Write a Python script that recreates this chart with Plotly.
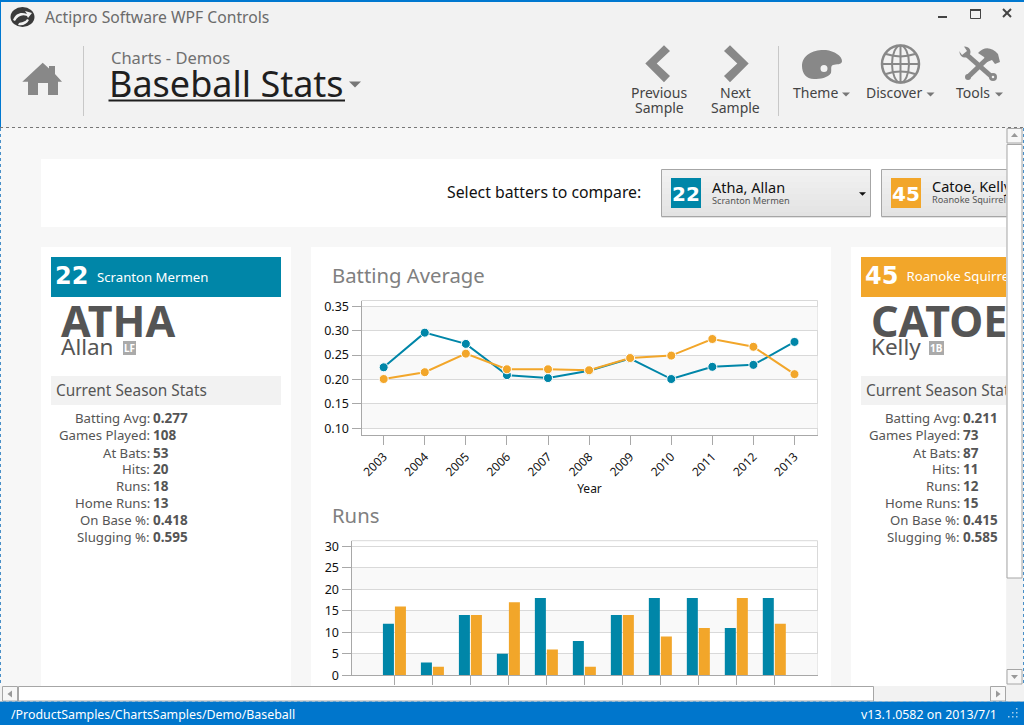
import re
import plotly.graph_objects as go

# ---------- data ----------
years = [2003, 2004, 2005, 2006, 2007, 2008, 2009, 2010, 2011, 2012, 2013]
avg_atha = [0.225, 0.296, 0.273, 0.209, 0.203, 0.218, 0.243, 0.201, 0.226, 0.230, 0.277]
avg_catoe = [0.201, 0.215, 0.253, 0.221, 0.221, 0.219, 0.244, 0.249, 0.283, 0.267, 0.211]
runs_atha = [12, 3, 14, 5, 18, 8, 14, 18, 18, 11, 18]
runs_catoe = [16, 2, 14, 17, 6, 2, 14, 9, 11, 18, 12]
avg_ticks = [0.10, 0.15, 0.20, 0.25, 0.30, 0.35]
run_ticks = [0, 5, 10, 15, 20, 25, 30]
stat_labels = ["Batting Avg:", "Games Played:", "At Bats:", "Hits:", "Runs:", "Home Runs:", "On Base %:", "Slugging %:"]
stats_atha = ["0.277", "108", "53", "20", "18", "13", "0.418", "0.595"]
stats_catoe = ["0.211", "73", "87", "11", "12", "15", "0.415", "0.585"]

TEAL = "#0086a8"
ORANGE = "#f2a62a"
FONT = "Noto Sans"
W, H = 1024, 725


def X(v):
    return v / W


def Y(v):
    return 1 - v / H


shapes = []
annotations = []


def rect(x0, y0, x1, y1, fill, line=None, lw=1, layer="below"):
    shapes.append(dict(type="rect", xref="paper", yref="paper", x0=X(x0), y0=Y(y0), x1=X(x1), y1=Y(y1),
                       fillcolor=fill, line=dict(color=line or fill, width=lw if line else 0), layer=layer))


def seg(x0, y0, x1, y1, color, lw=1, dash="solid", layer="below"):
    shapes.append(dict(type="line", xref="paper", yref="paper", x0=X(x0), y0=Y(y0), x1=X(x1), y1=Y(y1),
                       line=dict(color=color, width=lw, dash=dash), layer=layer))


def path(d, fill="rgba(0,0,0,0)", line=None, lw=0, layer="below"):
    conv = lambda m: f"{X(float(m.group(1))):.5f},{Y(float(m.group(2))):.5f}"
    shapes.append(dict(type="path", xref="paper", yref="paper",
                       path=re.sub(r"(-?[\d.]+),(-?[\d.]+)", conv, d),
                       fillcolor=fill, line=dict(color=line or "rgba(0,0,0,0)", width=lw), layer=layer))


def circle(cx, cy, rx, ry, fill="rgba(0,0,0,0)", line=None, lw=0, layer="below"):
    shapes.append(dict(type="circle", xref="paper", yref="paper", x0=X(cx - rx), y0=Y(cy - ry), x1=X(cx + rx), y1=Y(cy + ry),
                       fillcolor=fill, line=dict(color=line or "rgba(0,0,0,0)", width=lw), layer=layer))


def text(x, y, s, size, color="#555555", anchor="left", bold=False, family=FONT):
    annotations.append(dict(xref="paper", yref="paper", x=X(x), y=Y(y), text=s, showarrow=False,
                            xanchor=anchor, yanchor="middle", borderpad=0, borderwidth=0,
                            font=dict(size=size, color=color, family=family, weight="bold" if bold else "normal")))


def caret(cx, cy, w=4.5, h=5, color="#777777", layer="above"):
    path(f"M {cx-w},{cy-h/2} L {cx+w},{cy-h/2} L {cx},{cy+h/2} Z", fill=color, layer=layer)


def combo(x0, x1):
    """Selector box with a soft top-to-bottom gradient."""
    for i in range(8):
        g = 0xf1 - i * 2
        rect(x0, 170 + i * 6, x1, 170 + (i + 1) * 6, f"rgb({g},{g},{g})")
    rect(x0, 169.5, x1, 216.5, "rgba(0,0,0,0)", "#a6a6a6", 1)


# ---------- window chrome ----------
rect(0, 0, 1024, 128, "#f2f2f2")
rect(0, 128, 1024, 702, "#f7f7f7")
rect(41, 159, 1006, 227, "#ffffff")
rect(41, 247, 291, 690, "#ffffff")
rect(311, 247, 831, 690, "#ffffff")
rect(851, 247, 1006, 690, "#ffffff")
rect(0, 0, 1024, 2, "#0078d0")
seg(0.5, 0, 0.5, 128, "#0078d0")
seg(0, 127.5, 1024, 127.5, "#777777", 1, "dot")
seg(0.5, 128, 0.5, 702, "#4a90c8", 1, "dot")
seg(1023.5, 128, 1023.5, 702, "#4a90c8", 1, "dot")

# logo
circle(22.5, 17, 12, 10, fill="#3a3a3a")
path("M 13,20 C 16,13 21,12 27,14 L 25,11 L 32,13 L 28,18 L 27,16 C 22,14 18,16 15,21 Z", fill="#f2f2f2")
path("M 19,23 C 24,22 26,21 27,19 L 29,20 C 27,24 23,26 18,25 Z", fill="#f2f2f2")
text(45, 16.5, "Actipro Software WPF Controls", 15.7, "#6b6b6b")

# home
GR = "#888888"
path("M 22.3,81.7 L 42.7,62.7 L 49,68.5 L 49,66 L 55,66 L 55,74 L 62,81.7 L 58,81.7 L 58,95 L 48,95 L 48,83 L 38,83 L 38,95 L 28,95 L 28,81.7 Z", fill=GR)
seg(83.5, 46, 83.5, 116, "#c8c8c8")
text(111, 57.5, "Charts - Demos", 16.5, "#707070")
text(108.5, 83.5, "Baseball Stats", 36, "#1f1f1f")
rect(108.5, 99.5, 345, 101.5, "#1f1f1f")
caret(355, 84.5, 6, 6)

# chevrons
path("M 645.3,63.5 L 664,45.3 L 670,51 L 656.7,63.5 L 670,76 L 664,82.3 Z", fill=GR)
path("M 748.7,63.5 L 730,45.3 L 724,51 L 737.3,63.5 L 724,76 L 730,82.3 Z", fill=GR)
text(659, 93, "Previous", 14, "#444444", "center")
text(659, 108, "Sample", 14, "#444444", "center")
text(735.5, 93, "Next", 14, "#444444", "center")
text(735.5, 108, "Sample", 14, "#444444", "center")
seg(778.5, 46, 778.5, 116, "#c8c8c8")

# palette
path("M 802,66 C 802,54 815,49 826,50 C 834,51 842,56 842,61 C 842,65 836,64 833,65 C 830,66 832,70 831,73 C 828,78 820,79 814,79 C 806,79 802,73 802,66 Z", fill=GR)
circle(824, 68.5, 3.5, 3.5, fill="#f2f2f2")
text(793, 93, "Theme", 14, "#444444")
caret(846, 94.5, 4, 4)

# globe
circle(900.5, 64, 18.5, 18.5, line=GR, lw=2.5)
circle(900.5, 64, 8.5, 18.5, line=GR, lw=2)
seg(900.5, 46, 900.5, 82, GR, 2)
seg(882, 64, 919, 64, GR, 2)
path("M 886,54 C 895,57 906,57 915,54", line=GR, lw=2)
path("M 886,74 C 895,71 906,71 915,74", line=GR, lw=2)
text(866, 93, "Discover", 14, "#444444")
caret(930.5, 94.5, 4, 4)

# tools
seg(966, 54, 992, 77, GR, 5)
circle(965, 52, 5.5, 5.5, fill=GR)
path("M 957,48 L 963,45 L 967,51 L 962,55 Z", fill="#f2f2f2")
circle(993, 77, 4, 4, fill=GR)
circle(993, 77, 1.3, 1.3, fill="#f2f2f2")
seg(968, 77, 990, 56, GR, 5)
path("M 978,53 C 984,46 992,47 998,54 L 1000,62 L 995,64 L 992,60 L 987,62 L 984,57 Z", fill=GR)
circle(968, 77, 3, 3, fill=GR)
text(956, 93, "Tools", 14, "#444444")
caret(999, 94.5, 4, 4)

# window buttons
rect(938, 16, 947, 18, "#444444")
rect(970.5, 9.5, 980.5, 18.5, "#f2f2f2", "#444444", 1)
rect(970, 9, 981, 11, "#444444")
seg(1003, 9, 1011, 17, "#444444", 2)
seg(1011, 9, 1003, 17, "#444444", 2)

# batter selector
text(447, 192.5, "Select batters to compare:", 15.8, "#111111")
combo(661.5, 870.5)
rect(671, 178, 701, 208, TEAL)
text(686, 193.5, "22", 20, "#ffffff", "center", True, "DejaVu Sans")
text(712, 187.5, "Atha, Allan", 14.5, "#111111")
text(712, 201, "Scranton Mermen", 9.2, "#555555")
caret(862.5, 194, 3.5, 3.5, "#111111")
combo(881.5, 1010)
rect(891, 178, 921, 208, ORANGE)
text(906, 193.5, "45", 20, "#ffffff", "center", True, "DejaVu Sans")

# left player card
rect(51, 257, 281, 297, TEAL)
text(55, 276, "22", 24, "#ffffff", "left", True, "DejaVu Sans")
text(96.5, 277, "Scranton Mermen", 13.2, "#ffffff")
text(61, 320, "ATHA", 43, "#555555", "left", True)
text(61, 347, "Allan", 22.5, "#555555")
rect(123, 341, 136, 355, "#aaaaaa")
text(129.5, 348, "LF", 10, "#ffffff", "center", True)
rect(51, 376, 281, 405, "#f2f2f2")
text(56, 390.5, "Current Season Stats", 15.4, "#555555")
row_y = [418, 435, 452.5, 469, 486, 503, 520, 537]
for y, lab, val in zip(row_y, stat_labels, stats_atha):
    text(150, y, lab, 13.2, "#555555", "right")
    text(153, y, val, 13.5, "#555555", "left", True)

# right player card (the parts that are not cut by the window edge)
rect(861, 257, 1006, 297, ORANGE)
text(865, 276, "45", 24, "#ffffff", "left", True, "DejaVu Sans")
text(871, 347, "Kelly", 22.5, "#555555")
rect(929, 341, 944, 355, "#aaaaaa")
text(936.5, 348, "1B", 10, "#ffffff", "center", True)
rect(861, 376, 1006, 405, "#f2f2f2")
for y, lab, val in zip(row_y, stat_labels, stats_catoe):
    text(960, y, lab, 13.2, "#555555", "right")
    text(963, y, val, 13.5, "#555555", "left", True)

# chart titles
text(332, 275, "Batting Average", 20.3, "#808080")
text(332, 515, "Runs", 20.3, "#808080")

# scrollbars and status bar (above the charts)
rect(0, 686, 1024, 702, "#f2f2f2", layer="above")
rect(1006.5, 128, 1023, 686, "#f2f2f2", layer="above")
rect(1007, 128.5, 1022, 143, "#f7f7f7", "#a6a6a6", 1, layer="above")
rect(1007, 144.5, 1022, 578, "#ffffff", "#a6a6a6", 1, layer="above")
rect(1007, 669.5, 1022, 684, "#f7f7f7", "#a6a6a6", 1, layer="above")
path("M 1011,137 L 1018,137 L 1014.5,133 Z", fill="#999999", layer="above")
caret(1014.5, 677, 3.5, 4, "#999999")
rect(2.5, 686.5, 17.5, 701, "#f7f7f7", "#a6a6a6", 1, layer="above")
rect(18.5, 686.5, 873.5, 701, "#ffffff", "#a6a6a6", 1, layer="above")
rect(990.5, 686.5, 1005.5, 701, "#f7f7f7", "#a6a6a6", 1, layer="above")
path("M 12,690.5 L 12,697.5 L 7.5,694 Z", fill="#999999", layer="above")
path("M 996,690.5 L 996,697.5 L 1000.5,694 Z", fill="#999999", layer="above")
rect(0, 701.5, 1024, 725, "#0076cc", layer="above")
seg(0, 701.5, 1024, 701.5, "#9cb8cc", 1, "dot", layer="above")
text(11, 714, "/ProductSamples/ChartsSamples/Demo/Baseball", 12.4, "#ffffff")
text(996.5, 714, "v13.1.0582 on 2013/7/1", 12.4, "#ffffff", "right")
for gx, gy in [(1016, 716), (1012, 716), (1016, 712), (1008, 716), (1012, 712), (1016, 708)]:
    rect(gx, gy, gx + 1.5, gy + 1.5, "#a8d0ec", layer="above")

# ---------- figure ----------
fig = go.Figure()
GRID = "#d9d9d9"
AXIS = "#a8a8a8"
BAND = "#f9f9f9"
TICKFONT = dict(size=12.5, color="#111111", family=FONT)

# light top/right border of each plot
seg(361.5, 300.5, 817.5, 300.5, GRID)
seg(817.5, 300.5, 817.5, 435, GRID)
seg(351.5, 540.7, 817.5, 540.7, GRID)
seg(817.5, 540.7, 817.5, 675.3, GRID)

for yv, color in ((avg_atha, TEAL), (avg_catoe, ORANGE)):
    fig.add_trace(go.Scatter(x=years, y=yv, mode="lines+markers", xaxis="x", yaxis="y", showlegend=False,
                             hoverinfo="skip", cliponaxis=False,
                             line=dict(color=color, width=2),
                             marker=dict(color=color, size=9, line=dict(color="#ffffff", width=1))))
for yv, color in ((runs_atha, TEAL), (runs_catoe, ORANGE)):
    fig.add_trace(go.Bar(x=years, y=yv, xaxis="x2", yaxis="y2", marker=dict(color=color, line=dict(width=0)),
                         showlegend=False, hoverinfo="skip"))

# text that the window edge cuts off: clipped by an overlay axis ending at the panel edge
cut_texts = [
    ("Catoe, Kelly", 932, 188, 14.5, "#111111", "normal", FONT),
    ("Roanoke Squirrels", 932, 201, 9.2, "#555555", "normal", FONT),
    ("Roanoke Squirrels", 906.5, 278, 13.2, "#ffffff", "normal", FONT),
    ("CATOE", 871, 326, 43, "#555555", "bold", FONT),
    ("Current Season Stats", 866, 392.5, 15.4, "#555555", "normal", FONT),
]
for s, tx, ty, sz, col, wt, fam in cut_texts:
    fig.add_trace(go.Scatter(x=[tx], y=[ty], text=[s], mode="text", textposition="middle right", xaxis="x3", yaxis="y3",
                             showlegend=False, hoverinfo="skip", cliponaxis=True,
                             textfont=dict(size=sz, color=col, family=fam, weight=wt)))

# alternating bands
for ref_x, ref_y, low_high in (("x domain", "y", [(0.10, 0.15), (0.20, 0.25), (0.30, 0.35)]),
                               ("x2 domain", "y2", [(0, 5), (10, 15), (20, 25)])):
    for lo, hi in low_high:
        shapes.append(dict(type="rect", xref=ref_x, yref=ref_y, x0=0, x1=1, y0=lo, y1=hi,
                           fillcolor=BAND, line=dict(width=0), layer="below"))

fig.update_layout(
    width=W, height=H, margin=dict(l=0, r=0, t=0, b=0, pad=0, autoexpand=False), autosize=False,
    paper_bgcolor="#f7f7f7", plot_bgcolor="rgba(0,0,0,0)", font=dict(family=FONT),
    shapes=shapes, annotations=annotations,
    barmode="group", bargap=0.368, bargroupgap=0.083,
    xaxis=dict(domain=[X(361.5), X(817.5)], range=[2002.46, 2013.56], tickvals=years, tickangle=-45,
               ticks="outside", ticklen=9, tickcolor=AXIS, showline=True, linecolor=AXIS, linewidth=1,
               showgrid=False, zeroline=False, tickfont=dict(size=12, color="#111111", family=FONT),
               title=dict(text="Year", font=dict(size=12, color="#111111", family=FONT), standoff=3)),
    yaxis=dict(domain=[Y(435), Y(300.5)], range=[0.0863, 0.3619], tickvals=avg_ticks, tickformat=".2f",
               ticks="outside", ticklen=9, tickcolor=AXIS, showline=True, linecolor=AXIS, linewidth=1,
               showgrid=True, gridcolor=GRID, gridwidth=1, zeroline=False, tickfont=TICKFONT),
    xaxis2=dict(domain=[X(351.5), X(817.5)], range=[2003 - 1.13, 2003 + 11.137], tickvals=years, showticklabels=False,
                ticks="outside", ticklen=9, tickcolor=AXIS, showline=True, linecolor=AXIS, linewidth=1,
                showgrid=False, zeroline=False, anchor="y2"),
    yaxis2=dict(domain=[Y(675.3), Y(540.7)], range=[0, 31.3], tickvals=run_ticks,
                ticks="outside", ticklen=9, tickcolor=AXIS, showline=True, linecolor=AXIS, linewidth=1,
                showgrid=True, gridcolor=GRID, gridwidth=1, zeroline=False, tickfont=TICKFONT, anchor="x2"),
    xaxis3=dict(domain=[0, X(1006)], range=[0, 1006], visible=False, anchor="y3"),
    yaxis3=dict(domain=[0, 1], range=[725, 0], visible=False, anchor="x3"),
)

fig.write_html("out.html", config=dict(displayModeBar=False),
               post_script="document.body.style.margin='0';document.body.style.overflow='hidden';")
